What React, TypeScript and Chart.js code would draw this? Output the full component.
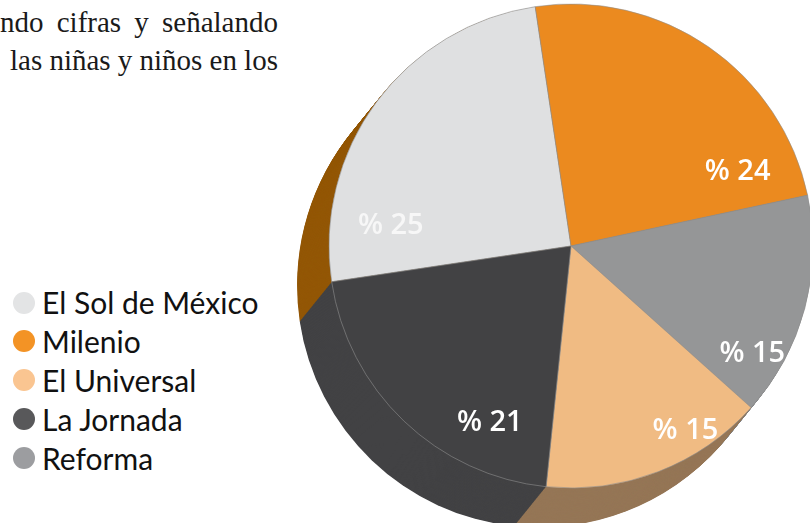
import { useEffect, useRef } from "react";
import { Chart, registerables } from "chart.js";

Chart.register(...registerables);

// Pie slices, clockwise starting at the light-grey slice
const sliceNames = ["El Sol de México", "Milenio", "Reforma", "El Universal", "La Jornada"];
const sliceShares = [25, 24, 15, 15, 21];
const sliceLabels = ["% 25", "% 24", "% 15", "% 15", "% 21"];

// Legend (its own order)
const legendNames = ["El Sol de México", "Milenio", "El Universal", "La Jornada", "Reforma"];
const legendColors = ["#e3e4e5", "#f39325", "#fac591", "#58585a", "#9c9da0"];

// Styles
const topColors = ["#dfe0e1", "#eb8a1f", "#959697", "#f0bb83", "#424244"];
const sideColors = ["#935706", "#a55f0e", "#808183", "#957656", "#424244"];
const labelColors = ["#f7f7f7", "#ffffff", "#ffffff", "#ffffff", "#ffffff"];
const labelSpanFraction = [0.17, 0.86, 0.79, 0.3, 0.25];
const labelRadiusFraction = [0.75, 0.755, 0.87, 0.895, 0.8];

const bodyLines = ["ndo cifras y señalando", "las niñas y niños en los"];

const DEPTH_X = -0.132;
const DEPTH_Y = 0.163;

const extrusion = {
  id: "extrusion",
  beforeDatasetsDraw(chart: any) {
    const ctx = chart.ctx;
    const arcs = chart.getDatasetMeta(0).data;
    const steps = 70;
    ctx.save();
    for (let s = steps; s >= 1; s--) {
      const t = s / steps;
      arcs.forEach((arc: any, i: number) => {
        const { x, y, startAngle, endAngle, outerRadius } = arc.getProps(
          ["x", "y", "startAngle", "endAngle", "outerRadius"],
          true
        );
        const ox = x + DEPTH_X * outerRadius * t;
        const oy = y + DEPTH_Y * outerRadius * t;
        ctx.beginPath();
        ctx.moveTo(ox, oy);
        ctx.arc(ox, oy, outerRadius, startAngle, endAngle);
        ctx.closePath();
        ctx.fillStyle = sideColors[i];
        ctx.fill();
      });
    }
    ctx.restore();
  },
  afterDatasetsDraw(chart: any) {
    const ctx = chart.ctx;
    const arcs = chart.getDatasetMeta(0).data;
    ctx.save();
    ctx.font = "600 29px 'Open Sans'";
    ctx.textAlign = "center";
    ctx.textBaseline = "middle";
    arcs.forEach((arc: any, i: number) => {
      const { x, y, startAngle, endAngle, outerRadius } = arc.getProps(
        ["x", "y", "startAngle", "endAngle", "outerRadius"],
        true
      );
      const a = startAngle + (endAngle - startAngle) * labelSpanFraction[i];
      const r = outerRadius * labelRadiusFraction[i];
      ctx.fillStyle = labelColors[i];
      ctx.fillText(sliceLabels[i], x + Math.cos(a) * r, y + Math.sin(a) * r + 1);
    });
    ctx.restore();
  },
};

export default function App() {
  const ref = useRef<HTMLCanvasElement>(null);

  useEffect(() => {
    const chart = new Chart(ref.current!, {
      type: "pie",
      data: {
        labels: sliceNames,
        datasets: [
          {
            data: sliceShares,
            backgroundColor: topColors,
            borderColor: "#8e8e8e",
            borderWidth: 0.6,
            radius: 242,
            rotation: 261.5,
          } as any,
        ],
      },
      options: {
        responsive: false,
        animation: false,
        events: [],
        rotation: 261.5,
        layout: { padding: 0 },
        plugins: { legend: { display: false }, tooltip: { enabled: false } },
      } as any,
      plugins: [extrusion],
    });
    return () => chart.destroy();
  }, []);

  return (
    <div
      style={{
        position: "fixed",
        left: 0,
        top: 0,
        width: 810,
        height: 523,
        overflow: "hidden",
        background: "#ffffff",
      }}
    >
      {bodyLines.map((line, i) => (
        <div
          key={i}
          style={{
            position: "absolute",
            left: i === 0 ? 0 : 10,
            top: i === 0 ? 7.7 : 45.7,
            width: i === 0 ? 278 : 268,
            display: "flex",
            justifyContent: "space-between",
            whiteSpace: "nowrap",
            fontFamily: "'Liberation Serif', serif",
            fontSize: 29,
            lineHeight: "29px",
            color: "#1a1a1a",
          }}
        >
          {line.split(" ").map((w, j) => (
            <span key={j}>{w}</span>
          ))}
        </div>
      ))}

      {legendNames.map((name, i) => {
        const cy = 302.5 + i * 38.9;
        return (
          <div key={name}>
            <div
              style={{
                position: "absolute",
                left: 13,
                top: cy - 11,
                width: 22,
                height: 22,
                borderRadius: "50%",
                background: legendColors[i],
              }}
            />
            <div
              style={{
                position: "absolute",
                left: 42,
                top: cy + 11.5 - 26.6,
                fontFamily: "Lato, sans-serif",
                fontSize: 30,
                lineHeight: "30px",
                whiteSpace: "nowrap",
                color: "#111111",
              }}
            >
              {name}
            </div>
          </div>
        );
      })}

      <canvas
        ref={ref}
        width={560}
        height={560}
        style={{ position: "absolute", left: 291, top: -34, width: 560, height: 560 }}
      />
    </div>
  );
}
